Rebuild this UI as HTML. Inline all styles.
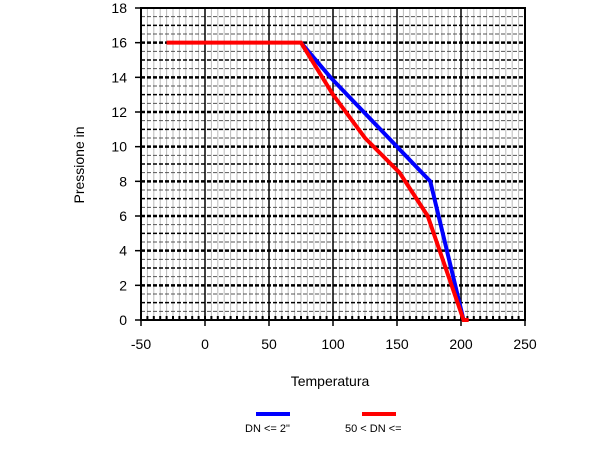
<!DOCTYPE html>
<html><head><meta charset="utf-8"><style>
body{margin:0;background:#fff;font-family:"Liberation Sans",sans-serif;}
svg text{font-family:"Liberation Sans",sans-serif;}
</style></head><body>
<svg id="chart" width="600" height="444" viewBox="0 0 600 444">
<g id="grid"></g>
<g id="axes"></g>
<g id="series"></g>
<text x="330" y="386" text-anchor="middle" font-size="14">Temperatura</text>
<text transform="translate(84,165) rotate(-90)" text-anchor="middle" font-size="14">Pressione      in</text>
<g>
<line x1="256" y1="414" x2="290" y2="414" stroke="#0000ff" stroke-width="4"/>
<text x="245" y="432" font-size="11">DN &lt;= 2"</text>
<line x1="362" y1="414" x2="396" y2="414" stroke="#ff0000" stroke-width="4"/>
<text x="345" y="432" font-size="11">50 &lt; DN &lt;=</text>
</g>
</svg>
<script>
const xTicks=[-50,0,50,100,150,200,250];
const yTicks=[0,2,4,6,8,10,12,14,16,18];
const blueX=[75,98,176,202];
const blueY=[16,14,8,0];
const redX=[-30,75,100,125,152,174,202,206];
const redY=[16,16,13,10.5,8.5,6,0,0];
const L=141,R=525,T=8,B=320;
const sx=v=>L+(v+50)/300*(R-L);
const sy=v=>B-v/18*(B-T);
const NS="http://www.w3.org/2000/svg";
function mk(p,t,a){const e=document.createElementNS(NS,t);for(const k in a)e.setAttribute(k,a[k]);p.appendChild(e);return e;}
const g=document.getElementById('grid'),ax=document.getElementById('axes'),s=document.getElementById('series');
for(let v=-50;v<=250;v+=5){
 if(v%50===0)continue;
 const l=mk(g,'line',{x1:sx(v),x2:sx(v),y1:T,y2:B,stroke:'#bbb','stroke-width':1});
 
 
}
for(let v=0.5;v<18;v+=0.5){
 const major=v%1===0;
 const l=mk(g,'line',{x1:L,x2:R,y1:sy(v),y2:sy(v),stroke:major?'#000':'#555','stroke-width':major?(v%2===0?2.5:1.5):1,'stroke-dasharray':'4,2'});
 
 
}
xTicks.forEach(v=>{
 const l=mk(g,'line',{x1:sx(v),x2:sx(v),y1:T,y2:B+6,stroke:'#000','stroke-width':1.5});
 
 
 const t=mk(ax,'text',{x:sx(v),y:B+29,'text-anchor':'middle','font-size':14});
 t.textContent=v;
 
 
});
yTicks.forEach(v=>{
 const t=mk(ax,'text',{x:L-14,y:sy(v)+5,'text-anchor':'end','font-size':14});
 t.textContent=v;
 
 
 const k=mk(ax,'line',{x1:L-6,x2:L,y1:sy(v),y2:sy(v),stroke:'#000','stroke-width':1.5});
 
 
});
for(let v=-50;v<=250;v+=5){
 const k=mk(ax,'line',{x1:sx(v),x2:sx(v),y1:B-4,y2:B,stroke:'#000','stroke-width':2});
 
 
}
const fr=mk(ax,'rect',{x:L,y:T,width:R-L,height:B-T,fill:'none',stroke:'#000','stroke-width':2});


const bl=mk(s,'polyline',{points:blueX.map((x,i)=>sx(x)+','+sy(blueY[i])).join(' '),fill:'none',stroke:'#0000ff','stroke-width':4});


const rl=mk(s,'polyline',{points:redX.map((x,i)=>sx(x)+','+sy(redY[i])).join(' '),fill:'none',stroke:'#ff0000','stroke-width':4});


</script>
</body></html>
